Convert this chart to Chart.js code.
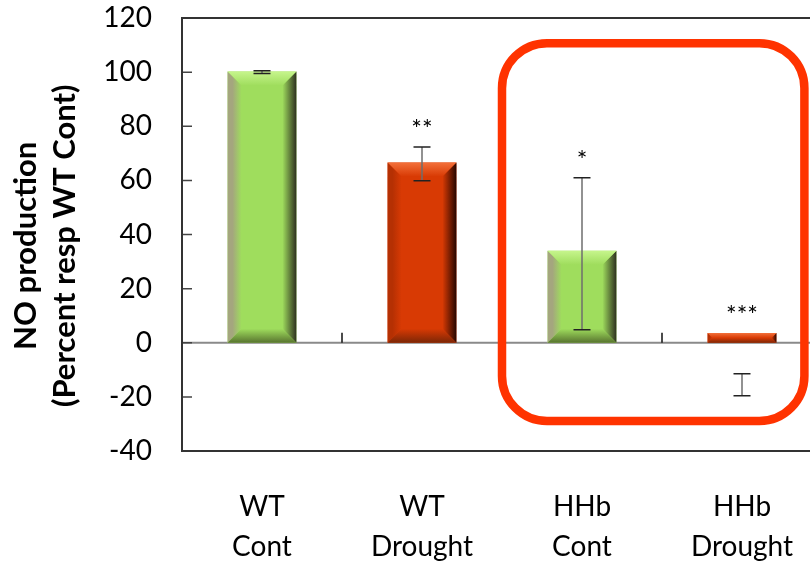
<!DOCTYPE html>
<html>
<head>
<meta charset="utf-8">
<script src="https://cdn.jsdelivr.net/npm/chart.js@4.4.0/dist/chart.umd.min.js"></script>
<style>
  html, body { margin: 0; padding: 0; background: #fff; overflow: hidden; }
  #wrap { width: 830px; height: 571px; }
</style>
</head>
<body>
<div id="wrap"><canvas id="chart"></canvas></div>
<script>
const categories = [['WT', 'Cont'], ['WT', 'Drought'], ['HHb', 'Cont'], ['HHb', 'Drought']];
const values = [100.2, 66.6, 34.0, 3.6];
const errLow = [99.5, 59.9, 4.8, -19.6];
const errHigh = [100.5, 72.3, 61.0, -11.5];
const stars = ['', '**', '*', '***'];
const yTicks = [-40, -20, 0, 20, 40, 60, 80, 100, 120];
const kinds = ['green', 'red', 'green', 'red'];
// box around the HHb pair (category index / y value units)
const boxX = [1.5, 3.39];
const boxY = [110.7, -28.9];

const palette = {
  green: { fill: '#9FDD5D', light: '#C6F58C', dark: '#58742F', shadow: '#2E3020', edge: '#A4A67E' },
  red:   { fill: '#D83A04', light: '#F3703A', dark: '#7C2606', shadow: '#260600', edge: '#B53003' }
};

function poly(ctx, pts, fill) {
  ctx.beginPath();
  ctx.moveTo(pts[0][0], pts[0][1]);
  for (let i = 1; i < pts.length; i++) ctx.lineTo(pts[i][0], pts[i][1]);
  ctx.closePath();
  ctx.fillStyle = fill;
  ctx.fill();
}

function bevel(ctx, el, pal) {
  const l = el.x - el.width / 2, r = el.x + el.width / 2;
  const t = Math.min(el.y, el.base), b = Math.max(el.y, el.base);
  const s = Math.min(14, (b - t) / 2, el.width / 2);
  // left
  let g = ctx.createLinearGradient(l, 0, l + s, 0);
  g.addColorStop(0, pal.edge);
  g.addColorStop(0.35, pal.edge);
  g.addColorStop(1, pal.fill);
  poly(ctx, [[l, t], [l + s, t + s], [l + s, b - s], [l, b]], g);
  // right
  g = ctx.createLinearGradient(r - s, 0, r, 0);
  g.addColorStop(0, pal.fill);
  g.addColorStop(1, pal.shadow);
  poly(ctx, [[r, t], [r, b], [r - s, b - s], [r - s, t + s]], g);
  // top
  g = ctx.createLinearGradient(0, t, 0, t + s);
  g.addColorStop(0, pal.light);
  g.addColorStop(1, pal.fill);
  poly(ctx, [[l, t], [r, t], [r - s, t + s], [l + s, t + s]], g);
  // bottom
  g = ctx.createLinearGradient(0, b - s, 0, b);
  g.addColorStop(0, pal.fill);
  g.addColorStop(1, pal.dark);
  poly(ctx, [[l, b], [r, b], [r - s, b - s], [l + s, b - s]], g);
}

const decor = {
  id: 'decor',
  beforeDatasetsDraw(chart) {
    const { ctx, chartArea: a, scales: { y } } = chart;
    const y0 = y.getPixelForValue(0);
    ctx.save();
    ctx.strokeStyle = '#8a8a8a';
    ctx.lineWidth = 2;
    ctx.beginPath();
    ctx.moveTo(a.left, y0);
    ctx.lineTo(a.right, y0);
    ctx.stroke();
    ctx.restore();
  },
  afterDatasetsDraw(chart) {
    const { ctx, chartArea: a, scales: { x, y } } = chart;
    const bars = chart.getDatasetMeta(0).data;
    const y0 = y.getPixelForValue(0);
    ctx.save();

    bars.forEach((el, i) => bevel(ctx, el, palette[kinds[i]]));

    // error bars
    bars.forEach((el, i) => {
      const yl = y.getPixelForValue(errLow[i]);
      const yh = y.getPixelForValue(errHigh[i]);
      ctx.strokeStyle = '#6e6e6e';
      ctx.lineWidth = 1.5;
      ctx.beginPath();
      ctx.moveTo(el.x, yl);
      ctx.lineTo(el.x, yh);
      ctx.stroke();
      ctx.strokeStyle = '#222';
      ctx.beginPath();
      ctx.moveTo(el.x - 8.5, yl); ctx.lineTo(el.x + 8.5, yl);
      ctx.moveTo(el.x - 8.5, yh); ctx.lineTo(el.x + 8.5, yh);
      ctx.stroke();
    });

    // significance stars
    ctx.fillStyle = '#000';
    ctx.font = '25px Lato';
    ctx.textAlign = 'center';
    ctx.textBaseline = 'middle';
    bars.forEach((el, i) => {
      if (!stars[i]) return;
      const top = Math.min(el.y, y.getPixelForValue(errHigh[i]));
      ctx.fillText(stars[i], el.x, top - 17);
    });

    // category ticks on the zero line
    ctx.strokeStyle = '#111';
    ctx.lineWidth = 1.5;
    ctx.beginPath();
    for (let i = 0; i < categories.length - 1; i++) {
      const xm = (x.getPixelForTick(i) + x.getPixelForTick(i + 1)) / 2;
      ctx.moveTo(xm, y0);
      ctx.lineTo(xm, y0 - 10);
    }
    ctx.stroke();

    // inside y ticks
    ctx.strokeStyle = '#444';
    ctx.beginPath();
    yTicks.forEach(v => {
      const yp = y.getPixelForValue(v);
      ctx.moveTo(a.left, yp);
      ctx.lineTo(a.left + 10, yp);
    });
    ctx.stroke();

    // frame
    ctx.strokeStyle = '#333';
    ctx.lineWidth = 2;
    ctx.strokeRect(a.left, a.top, a.right - a.left, a.bottom - a.top);

    // highlight box
    const bl = x.getPixelForDecimal((boxX[0] + 0.5) / categories.length);
    const br = x.getPixelForDecimal((boxX[1] + 0.5) / categories.length);
    const bt = y.getPixelForValue(boxY[0]);
    const bb = y.getPixelForValue(boxY[1]);
    ctx.strokeStyle = '#FF3300';
    ctx.lineWidth = 8.5;
    ctx.beginPath();
    ctx.roundRect(bl, bt, br - bl, bb - bt, 45);
    ctx.stroke();

    ctx.restore();
  }
};

new Chart(document.getElementById('chart'), {
  type: 'bar',
  data: {
    labels: categories,
    datasets: [{
      data: values,
      backgroundColor: kinds.map(k => palette[k].fill),
      borderWidth: 0,
      barPercentage: 0.43,
      categoryPercentage: 1
    }]
  },
  options: {
    responsive: true,
    maintainAspectRatio: false,
    animation: false,
    devicePixelRatio: 1,
    layout: { padding: { top: 18, right: 8, left: 0, bottom: 0 } },
    plugins: { legend: { display: false }, tooltip: { enabled: false } },
    scales: {
      x: {
        afterFit: s => { s.height = 120; s.paddingLeft = 0; s.paddingRight = 0; },
        grid: { display: false, drawTicks: false },
        border: { display: false },
        ticks: {
          color: '#000', padding: 36, maxRotation: 0, autoSkip: false,
          font: { family: 'Lato', size: 28, lineHeight: 1.43 }
        }
      },
      y: {
        min: -40,
        max: 120,
        afterBuildTicks: s => { s.ticks = yTicks.map(v => ({ value: v })); },
        afterFit: s => { s.width = 182; s.paddingTop = 0; s.paddingBottom = 0; },
        grid: { display: false, drawTicks: false },
        border: { display: false },
        ticks: { color: '#000', padding: 30, font: { family: 'Lato', size: 28 } },
        title: {
          display: true,
          text: ['NO production   ', '(Percent resp WT Cont)   '],
          color: '#000',
          font: { family: 'Lato', size: 31, weight: 'bold', lineHeight: 1.25 },
          padding: { top: 7 }
        }
      }
    }
  },
  plugins: [decor]
});
</script>
</body>
</html>
